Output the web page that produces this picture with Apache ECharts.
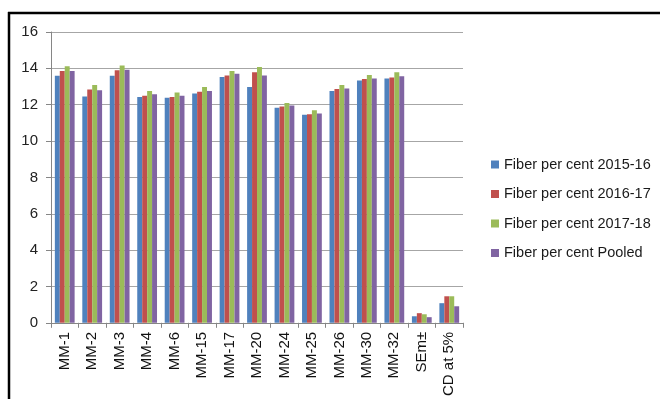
<!DOCTYPE html>
<html>
<head>
<meta charset="utf-8">
<script src="https://cdn.jsdelivr.net/npm/echarts@6/dist/echarts.min.js"></script>
<style>
  html, body { margin: 0; padding: 0; background: #fff; }
  #chart { width: 660px; height: 399px; }
</style>
</head>
<body>
<div id="chart"></div>
<script>
// Genotypes plus the SEm and CD rows
const categories = ['MM-1', 'MM-2', 'MM-3', 'MM-4', 'MM-6', 'MM-15', 'MM-17', 'MM-20',
  'MM-24', 'MM-25', 'MM-26', 'MM-30', 'MM-32', 'SEm±', 'CD at 5%'];

const fiber2015 = [13.59, 12.45, 13.59, 12.42, 12.38, 12.62, 13.52, 12.97, 11.83, 11.45, 12.76, 13.33, 13.44, 0.36, 1.08];
const fiber2016 = [13.86, 12.84, 13.90, 12.49, 12.42, 12.71, 13.60, 13.79, 11.90, 11.48, 12.86, 13.41, 13.50, 0.53, 1.46];
const fiber2017 = [14.12, 13.09, 14.15, 12.76, 12.67, 12.97, 13.86, 14.08, 12.10, 11.70, 13.09, 13.64, 13.79, 0.47, 1.46];
const fiberPooled = [13.86, 12.80, 13.92, 12.58, 12.49, 12.76, 13.70, 13.60, 11.96, 11.52, 12.89, 13.44, 13.57, 0.31, 0.91];

const seriesNames = ['Fiber per cent 2015-16', 'Fiber per cent 2016-17', 'Fiber per cent 2017-18', 'Fiber per cent Pooled'];
const seriesColors = ['#4F81BD', '#C0504D', '#9BBB59', '#8064A2'];
const seriesValues = [fiber2015, fiber2016, fiber2017, fiberPooled];

const yTicks = { min: 0, max: 16, interval: 2 };

const font = 'Liberation Sans, Arial, sans-serif';

const chart = echarts.init(document.getElementById('chart'), null, { renderer: 'canvas' });

chart.setOption({
  animation: false,
  backgroundColor: '#ffffff',
  textStyle: { fontFamily: font },
  grid: { left: 51, right: 197, top: 32, bottom: 76, containLabel: false },
  legend: {
    orient: 'vertical',
    left: 486,
    top: 152,
    itemWidth: 8,
    itemHeight: 8,
    itemGap: 14.5,
    icon: 'rect',
    textStyle: { fontSize: 14.5, color: '#1a1a1a', fontFamily: font },
    data: seriesNames
  },
  xAxis: {
    type: 'category',
    data: categories,
    axisLine: { lineStyle: { color: '#868686', width: 1 } },
    axisTick: { show: true, length: 5, interval: 0, lineStyle: { color: '#868686' } },
    axisLabel: { interval: 0, rotate: 90, fontSize: 15, color: '#111', margin: 9, fontFamily: font }
  },
  yAxis: {
    type: 'value',
    min: yTicks.min,
    max: yTicks.max,
    interval: yTicks.interval,
    axisLine: { show: true, lineStyle: { color: '#868686', width: 1 } },
    axisTick: { show: true, length: 5, lineStyle: { color: '#868686' } },
    axisLabel: { fontSize: 15, color: '#222', margin: 13, fontFamily: font },
    splitLine: { show: true, lineStyle: { color: '#A6A6A6', width: 1 } }
  },
  series: seriesValues.map((vals, i) => ({
    name: seriesNames[i],
    type: 'bar',
    data: vals,
    barGap: '0%',
    barCategoryGap: '28%',
    itemStyle: { color: seriesColors[i] }
  })),
  graphic: [
    { type: 'line', shape: { x1: 8, y1: 13, x2: 660, y2: 13 }, style: { stroke: '#000', lineWidth: 2.5 } },
    { type: 'line', shape: { x1: 9, y1: 12, x2: 9, y2: 399 }, style: { stroke: '#000', lineWidth: 2.5 } }
  ]
});
</script>
</body>
</html>
